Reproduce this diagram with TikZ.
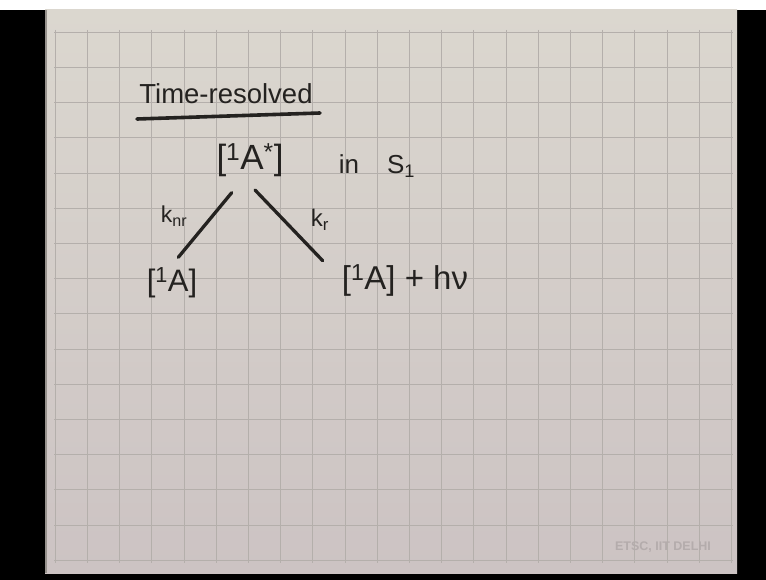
\documentclass[tikz,border=0pt]{standalone}
\usepackage{fontspec}
\setmainfont{Liberation Sans}
\definecolor{paperT}{RGB}{219,215,207}
\definecolor{paperB}{RGB}{204,195,195}
\definecolor{gridc}{RGB}{180,175,171}
\definecolor{inkc}{RGB}{36,34,32}
\definecolor{edgec}{RGB}{150,145,140}
\definecolor{wmc}{RGB}{180,172,172}
\begin{document}
\begin{tikzpicture}[x=1pt,y=-1pt,
  ink/.style={draw=inkc, line width=3.3pt, line cap=round},
  hand/.style={text=inkc, inner sep=0pt, anchor=center},
  gridline/.style={draw=gridc, line width=1pt}]
\useasboundingbox (0,0) rectangle (766,580);
\fill[black] (0,0) rectangle (766,580);
\fill[white] (0,0) rectangle (766,10);
\shade[top color=paperT, bottom color=paperB] (45,10) rectangle (737,573);
\draw[edgec, line width=1.5pt] (46,10) -- (46,573);
\foreach \i in {0,...,21} \draw[gridline] ({55.3+32.2*\i},30) -- ({55.3+32.2*\i},563);
\foreach \j in {0,...,15} \draw[gridline] (54,{32.3+35.2*\j}) -- (733,{32.3+35.2*\j});
% title
\node[hand, font=\fontsize{27.5}{27.5}\selectfont] (title) at (226,94) {Time-resolved};
\coordinate (ulA) at (137,119);
\coordinate (ulB) at (320,113);
\draw[ink, line width=3.6pt] (ulA) -- (ulB);
% excited state
\node[hand, font=\fontsize{35}{35}\selectfont] (ex) at (250,160) {[\textsuperscript{1}A\textsuperscript{*}]};
\node[hand, font=\fontsize{26}{26}\selectfont] (state) at (377,166) {in\hspace{28pt}S\textsubscript{1}};
% branches
\coordinate (L1) at (231.7,192.7);
\coordinate (L2) at (178.3,257.3);
\coordinate (R1) at (255,190);
\coordinate (R2) at (322.7,260.7);
\draw[ink] (L1) -- (L2);
\draw[ink] (R1) -- (R2);
\node[hand, font=\fontsize{23}{23}\selectfont] (knr) at (174,216) {k\textsubscript{nr}};
\node[hand, font=\fontsize{24}{24}\selectfont] (kr) at (320,220) {k\textsubscript{r}};
% products
\node[hand, font=\fontsize{31}{31}\selectfont] (gs) at (172,283) {[\textsuperscript{1}A]};
\node[hand, font=\fontsize{33}{33}\selectfont] (em) at (405,280) {[\textsuperscript{1}A] + hν};
% watermark
\node[text=wmc, inner sep=0pt, font=\bfseries\fontsize{12.5}{12.5}\selectfont] (wm) at (663,547) {ETSC, IIT DELHI};
\end{tikzpicture}
\end{document}
